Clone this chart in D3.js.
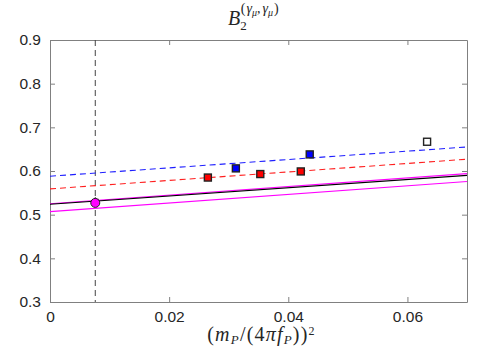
<!DOCTYPE html>
<meta charset="utf-8">
<style>
body { margin: 0; background: #fff; }
text { fill: #262626; }
</style>
<body>
<script src="https://cdn.jsdelivr.net/npm/d3@7"></script>
<script>

// data
var xTicks = [0, 0.02, 0.04, 0.06];
var yTicks = [0.3, 0.4, 0.5, 0.6, 0.7, 0.8, 0.9];
var physX = 0.0076;

var blueX = [0.0312, 0.0436];
var blueY = [0.606, 0.638];
var blueErr = [0.007, 0.006];

var redX = [0.0265, 0.0353, 0.0421];
var redY = [0.585, 0.593, 0.599];
var redErr = [0.005, 0.005, 0.005];

var openX = [0.0633];
var openY = [0.667];

var physPtY = 0.527;
var physPtErr = 0.008;

// straight fit lines: [y at x=0, y at x=0.07]
var blueFit = [0.588, 0.655];
var redFit = [0.559, 0.627];
var blackFit = [0.524, 0.590];
var magHi = [0.525, 0.594];
var magLo = [0.507, 0.576];

var margin = {top: 40, right: 10, bottom: 56, left: 50},
    width = 477 - margin.left - margin.right,
    height = 358 - margin.top - margin.bottom;

var svg = d3.select("body").append("svg")
    .attr("width", 477)
    .attr("height", 358)
    .append("g")
    .attr("transform", "translate(" + margin.left + "," + margin.top + ")");

var x = d3.scaleLinear().domain([0, 0.07]).range([0, width]);
var y = d3.scaleLinear().domain([0.3, 0.9]).range([height, 0]);

var axisCol = "#808080";

function styleAxis(g) {
  g.select(".domain").attr("stroke", axisCol);
  g.selectAll(".tick line").attr("stroke", axisCol);
  g.selectAll("text").style("font-family", "Liberation Sans, Arial, sans-serif")
    .style("font-size", "15.5px").attr("fill", "#262626");
}

svg.append("g").attr("transform", "translate(0," + height + ")")
  .call(d3.axisBottom(x).tickValues(xTicks).tickSizeInner(-5).tickSizeOuter(0)
        .tickPadding(9).tickFormat(function(d) { return d === 0 ? "0" : d3.format(".2f")(d); }))
  .call(styleAxis);
svg.append("g")
  .call(d3.axisLeft(y).tickValues(yTicks).tickSizeInner(-5).tickSizeOuter(0)
        .tickPadding(9).tickFormat(d3.format(".1f")))
  .call(styleAxis);
svg.append("g")
  .call(d3.axisTop(x).tickValues(xTicks).tickSizeInner(-5).tickSizeOuter(0).tickFormat(""))
  .call(styleAxis);
svg.append("g").attr("transform", "translate(" + width + ",0)")
  .call(d3.axisRight(y).tickValues(yTicks).tickSizeInner(-5).tickSizeOuter(0).tickFormat(""))
  .call(styleAxis);

// vertical dashed line at physical point
svg.append("line")
  .attr("x1", x(physX)).attr("x2", x(physX))
  .attr("y1", 0).attr("y2", height)
  .attr("stroke", "#444").attr("stroke-width", 1)
  .attr("stroke-dasharray", "6,4");

function fitLine(f, col, dash) {
  svg.append("line")
    .attr("x1", x(0)).attr("y1", y(f[0]))
    .attr("x2", x(0.07)).attr("y2", y(f[1]))
    .attr("stroke", col).attr("stroke-width", 1.1)
    .attr("stroke-dasharray", dash ? "6,4" : null);
}
fitLine(blueFit, "#1f1fff", true);
fitLine(redFit, "#ff2020", true);
fitLine(magHi, "#ff00ff", false);
fitLine(magLo, "#ff00ff", false);
fitLine(blackFit, "#000", false);

function squares(xs, ys, errs, fill) {
  var g = svg.append("g");
  xs.forEach(function(xv, i) {
    if (errs) {
      g.append("line")
        .attr("x1", x(xv)).attr("x2", x(xv))
        .attr("y1", y(ys[i] - errs[i])).attr("y2", y(ys[i] + errs[i]))
        .attr("stroke", "#000").attr("stroke-width", 1);
    }
    g.append("rect")
      .attr("x", x(xv) - 3.5).attr("y", y(ys[i]) - 3.5)
      .attr("width", 7).attr("height", 7)
      .attr("fill", fill).attr("stroke", "#222").attr("stroke-width", 1.4);
  });
}
squares(redX, redY, redErr, "#ff0000");
squares(blueX, blueY, blueErr, "#0000ff");
squares(openX, openY, null, "#fff");

// physical point
svg.append("line")
  .attr("x1", x(physX)).attr("x2", x(physX))
  .attr("y1", y(physPtY - physPtErr)).attr("y2", y(physPtY + physPtErr))
  .attr("stroke", "#000").attr("stroke-width", 1);
svg.append("path")
  .attr("d", d3.symbol().type(d3.symbolAsterisk).size(40)())
  .attr("transform", "translate(" + x(physX) + "," + y(physPtY + 0.004) + ")")
  .attr("stroke", "#000").attr("fill", "none");
svg.append("circle")
  .attr("cx", x(physX)).attr("cy", y(physPtY)).attr("r", 4.5)
  .attr("fill", "#ff00ff").attr("stroke", "#222").attr("stroke-width", 1);

// title
var title = svg.append("text")
  .attr("x", 178).attr("y", -15)
  .attr("text-anchor", "start")
  .style("font-family", "Liberation Serif, Times New Roman, serif")
  .style("font-size", "20px").style("font-style", "italic");
title.append("tspan").text("B");
title.append("tspan").attr("dy", 5).style("font-size", "13px").style("font-style", "normal").text("2");
title.append("tspan").attr("dx", -6).attr("dy", -17).style("font-size", "14px").style("font-style", "normal").text("(");
title.append("tspan").attr("dx", 1).style("font-size", "14px").text("γ");
title.append("tspan").attr("dy", 3).style("font-size", "10px").text("μ");
title.append("tspan").attr("dy", -3).style("font-size", "14px").style("font-style", "normal").text(",");
title.append("tspan").attr("dx", 2).style("font-size", "14px").text("γ");
title.append("tspan").attr("dy", 3).style("font-size", "10px").text("μ");
title.append("tspan").attr("dx", 1).attr("dy", -3).style("font-size", "14px").style("font-style", "normal").text(")");

// x label
var xl = svg.append("text")
  .attr("x", width / 2 + 3).attr("y", height + 39)
  .attr("text-anchor", "middle")
  .style("font-family", "Liberation Serif, Times New Roman, serif")
  .style("font-size", "20px").style("letter-spacing", "1.2px");
xl.append("tspan").text("(");
xl.append("tspan").style("font-style", "italic").text("m");
xl.append("tspan").attr("dy", 3).style("font-size", "13px").style("font-style", "italic").text("P");
xl.append("tspan").attr("dy", -3).text("/(4");
xl.append("tspan").style("font-style", "italic").text("πf");
xl.append("tspan").attr("dy", 3).style("font-size", "13px").style("font-style", "italic").text("P");
xl.append("tspan").attr("dy", -3).text("))");
xl.append("tspan").attr("dy", -6).style("font-size", "12px").text("2");

</script>
</body>
